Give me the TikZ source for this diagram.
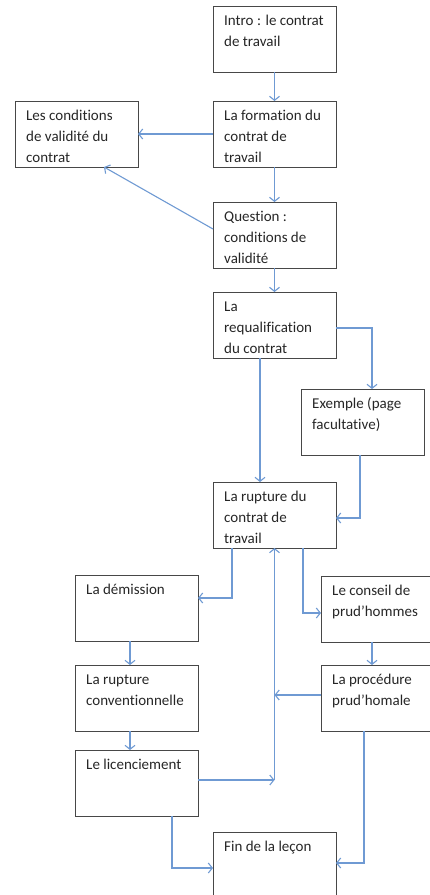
\documentclass[tikz,border=0pt]{standalone}
\usepackage{fontspec}
\setmainfont{Carlito}[Ligatures=NoCommon]
\usetikzlibrary{arrows.meta,calc}
\definecolor{boxgray}{HTML}{474747}
\definecolor{arrowblue}{HTML}{6F9AD3}
\begin{document}
\begin{tikzpicture}[x=1pt,y=-1pt,
  box/.style={draw=boxgray, line width=1pt, minimum width=123pt, minimum height=66pt, inner sep=0pt, outer sep=0pt, anchor=north west},
  txt/.style={anchor=north west, inner sep=0pt, align=left, font=\fontsize{15}{21}\selectfont, text=black!85},
  conn/.style={draw=arrowblue, line width=1.1pt, -{Straight Barb[length=4pt,width=10pt]}}]
\useasboundingbox (0,0) rectangle (430,895);
\clip (0,0) rectangle (430,895);
% boxes
\node[box] (intro) at (213,6) {};
\node[box] (formation) at (213,101) {};
\node[box] (conditions) at (15,101) {};
\node[box] (question) at (213,202) {};
\node[box] (requal) at (213,292) {};
\node[box] (exemple) at (301,389) {};
\node[box] (rupture) at (213,482) {};
\node[box] (demission) at (75,575) {};
\node[box] (conseil) at (321,576) {};
\node[box] (procedure) at (321,665) {};
\node[box] (conv) at (75,665) {};
\node[box] (licenciement) at (75,750) {};
\node[box] (fin) at (213,832) {};
% texts
\node[txt] (tintro) at ($(intro.north west)+(11,5)$) {\strut Intro : le contrat\\de travail};
\node[txt] (tformation) at ($(formation.north west)+(11,5)$) {\strut La formation du\\contrat de\\travail};
\node[txt] (tconditions) at ($(conditions.north west)+(11,5)$) {\strut Les conditions\\de validité du\\contrat};
\node[txt] (tquestion) at ($(question.north west)+(11,5)$) {\strut Question :\\conditions de\\validité};
\node[txt] (trequal) at ($(requal.north west)+(11,5)$) {\strut La\\requalification\\du contrat};
\node[txt] (texemple) at ($(exemple.north west)+(11,5)$) {\strut Exemple (page\\facultative)};
\node[txt] (trupture) at ($(rupture.north west)+(11,5)$) {\strut La rupture du\\contrat de\\travail};
\node[txt] (tdemission) at ($(demission.north west)+(11,5)$) {\strut La démission};
\node[txt] (tconseil) at ($(conseil.north west)+(11,5)$) {\strut Le conseil de\\prud’hommes};
\node[txt] (tprocedure) at ($(procedure.north west)+(11,5)$) {\strut La procédure\\prud’homale};
\node[txt] (tconv) at ($(conv.north west)+(11,5)$) {\strut La rupture\\conventionnelle};
\node[txt] (tlicenciement) at ($(licenciement.north west)+(11,5)$) {\strut Le licenciement};
\node[txt] (tfin) at ($(fin.north west)+(11,5)$) {\strut Fin de la leçon};
% connectors
\draw[conn] (intro.south) -- (formation.north);
\draw[conn] (formation.west) -- (conditions.east);
\draw[conn] (formation.south) -- (question.north);
\draw[conn] ($(question.north west)+(0,27)$) -- ($(conditions.south west)+(89,0)$);
\draw[conn] (question.south) -- (requal.north);
\draw[conn] ($(requal.north east)+(0,36)$) -| ($(exemple.north west)+(71,0)$);
\draw[conn] ($(requal.south west)+(47,0)$) -- ($(rupture.north west)+(47,0)$);
\draw[conn] ($(exemple.south west)+(59,0)$) |- ($(rupture.east)+(0,3)$);
\draw[conn] ($(rupture.south west)+(19,0)$) |- ($(demission.north east)+(0,23)$);
\draw[conn] ($(rupture.south west)+(90,0)$) |- ($(conseil.north west)+(0,37)$);
\draw[conn] ($(conseil.south west)+(51,0)$) -- ($(procedure.north west)+(51,0)$);
\coordinate (vbot) at ($(rupture.south)+(0,232)$);
\coordinate (vmid) at ($(rupture.south)+(0,147)$);
\draw[conn] (vbot) -- (rupture.south);
\draw[conn] ($(procedure.north west)+(0,30)$) -- (vmid);
\draw[conn] ($(licenciement.north east)+(0,30)$) -- (vbot);
\draw[conn] ($(demission.south west)+(55,0)$) -- ($(conv.north west)+(55,0)$);
\draw[conn] ($(conv.south west)+(55,0)$) -- ($(licenciement.north west)+(55,0)$);
\draw[conn] ($(licenciement.south west)+(97,0)$) |- ($(fin.north west)+(0,36)$);
\draw[conn] ($(procedure.south west)+(43,0)$) |- ($(fin.north east)+(0,31)$);
\end{tikzpicture}
\end{document}
